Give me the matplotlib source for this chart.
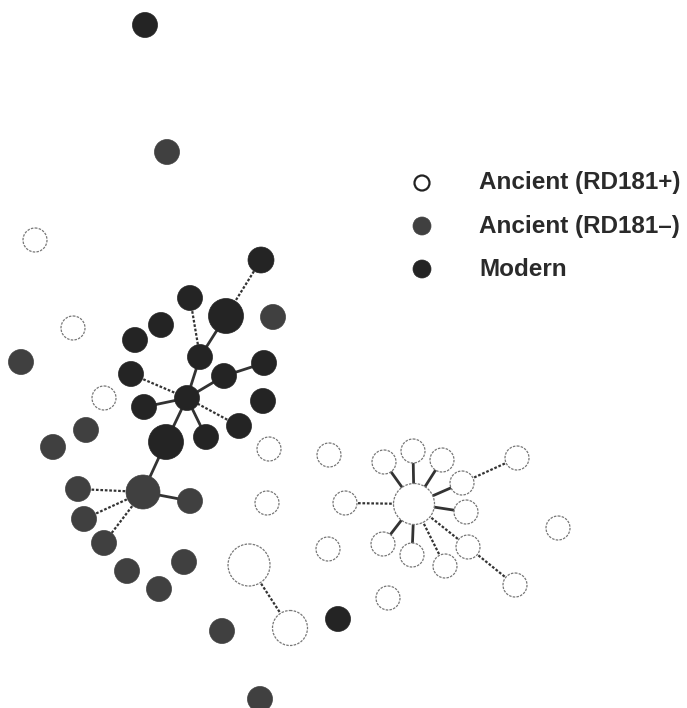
import matplotlib
matplotlib.use("Agg")
import matplotlib.pyplot as plt
from matplotlib.patches import Circle

# Node layout (pixel-like layout units), radius, and type
# type: 'plus' = Ancient (RD181+), 'minus' = Ancient (RD181-), 'modern' = Modern
node_x = [145, 167, 35, 261, 190, 226, 273, 73, 161, 135, 21, 200, 224, 264, 131,
          104, 187, 144, 263, 239, 206, 166, 86, 53, 269,
          143, 78, 190, 84, 104, 127, 184, 159, 249, 290, 222, 338, 260,
          329, 267, 345, 328,
          414, 384, 413, 442, 462, 517, 466, 558, 383, 412, 445, 468, 515, 388]
node_y = [25, 152, 240, 260, 298, 316, 317, 328, 325, 340, 362, 357, 376, 363, 374,
          398, 398, 407, 401, 426, 437, 442, 430, 447, 449,
          492, 489, 501, 519, 543, 571, 562, 589, 565, 628, 631, 619, 699,
          455, 503, 503, 549,
          504, 462, 451, 460, 483, 458, 512, 528, 544, 555, 566, 547, 585, 598]
node_r = [12.5, 12.5, 12, 13, 12.5, 17.5, 12.5, 12, 12.5, 12.5, 12.5, 12.5, 12.5, 12.5, 12.5,
          12, 12.5, 12.5, 12.5, 12.5, 12.5, 17.5, 12.5, 12.5, 12,
          17, 12.5, 12.5, 12.5, 12.5, 12.5, 12.5, 12.5, 21, 17.5, 12.5, 12.5, 12.5,
          12, 12, 12, 12,
          20.5, 12, 12, 12, 12, 12, 12, 12, 12, 12, 12, 12, 12, 12]
node_type = ['modern', 'minus', 'plus', 'modern', 'modern', 'modern', 'minus', 'plus', 'modern', 'modern',
             'minus', 'modern', 'modern', 'modern', 'modern',
             'plus', 'modern', 'modern', 'modern', 'modern', 'modern', 'modern', 'minus', 'minus', 'plus',
             'minus', 'minus', 'minus', 'minus', 'minus', 'minus', 'minus', 'minus', 'plus', 'plus',
             'minus', 'modern', 'minus',
             'plus', 'plus', 'plus', 'plus',
             'plus', 'plus', 'plus', 'plus', 'plus', 'plus', 'plus', 'plus', 'plus', 'plus', 'plus',
             'plus', 'plus', 'plus']

# Edges: (source index, target index, style)
edge_src = [3, 4, 5, 11, 12, 13, 14, 17, 19, 20, 21, 21,
            25, 25, 25, 25, 33,
            42, 42, 42, 42, 42, 42, 42, 42, 42, 42, 46, 53]
edge_dst = [5, 11, 11, 16, 16, 12, 16, 16, 16, 16, 16, 25,
            26, 28, 29, 27, 34,
            43, 44, 45, 46, 48, 50, 51, 52, 53, 40, 47, 54]
edge_style = ['dash', 'dash', 'solid', 'solid', 'solid', 'solid', 'dash', 'solid', 'dash', 'solid', 'solid', 'solid',
              'dash', 'dash', 'dash', 'solid', 'dash',
              'solid', 'solid', 'solid', 'solid', 'solid', 'solid', 'solid', 'dash', 'dash', 'dash', 'dash', 'dash']

legend_labels = ['Ancient (RD181+)', 'Ancient (RD181\u2013)', 'Modern']
legend_types = ['plus', 'minus', 'modern']

face = {'plus': 'white', 'minus': '#404040', 'modern': '#242424'}
edgec = {'plus': '#777777', 'minus': '#404040', 'modern': '#242424'}

fig = plt.figure(figsize=(6.87, 7.08), dpi=100)
ax = fig.add_axes([0, 0, 1, 1])
ax.set_xlim(0, 687)
ax.set_ylim(708, 0)
ax.set_aspect('equal')
ax.axis('off')

for s, d, st in zip(edge_src, edge_dst, edge_style):
    if st == 'solid':
        ax.plot([node_x[s], node_x[d]], [node_y[s], node_y[d]], color='#333333', lw=2.0,
                solid_capstyle='butt', zorder=1)
    else:
        ax.plot([node_x[s], node_x[d]], [node_y[s], node_y[d]], color='#333333', lw=1.6,
                linestyle=(0, (1.2, 0.8)), zorder=1)

for x, y, r, t in zip(node_x, node_y, node_r, node_type):
    lw = 0.9 if t == 'plus' else 0.5
    ls = (0, (2, 1)) if t == 'plus' else '-'
    ax.add_patch(Circle((x, y), r, facecolor=face[t], edgecolor=edgec[t], lw=lw,
                        linestyle=ls, zorder=2))

leg_y = [183, 226, 269]
for lab, t, ly in zip(legend_labels, legend_types, leg_y):
    if t == 'plus':
        ax.add_patch(Circle((422, ly), 7.5, facecolor='white', edgecolor='#222222', lw=1.6, zorder=2))
    else:
        ax.add_patch(Circle((422, ly), 9, facecolor=face[t], edgecolor=edgec[t], lw=0.5, zorder=2))
    ax.text(479, ly, lab, fontsize=17.5, fontweight='bold', family='Liberation Sans',
            color='#2a2a2a', va='center', ha='left')

fig.savefig('out.png', dpi=100, facecolor='white')
